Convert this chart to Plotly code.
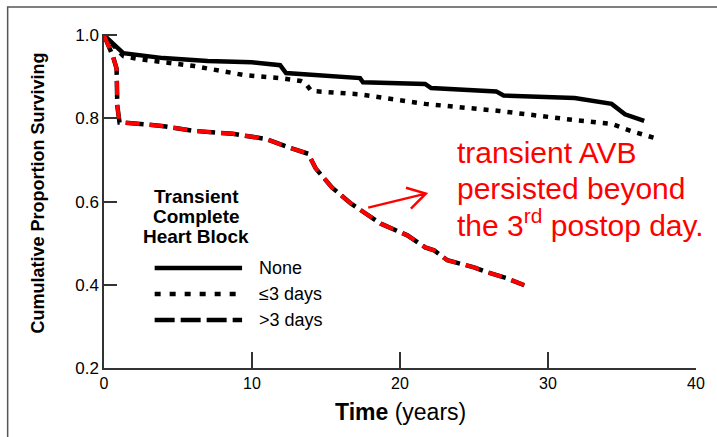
import plotly.graph_objects as go

# ---------------- data ----------------
none_t = [0, 1.3, 4, 7, 10, 11.9, 12.3, 17.3, 17.5, 21.7, 22.1, 26.5, 27.0, 31.8, 34.3, 35.2, 36.5]
none_s = [1.0, 0.957, 0.945, 0.938, 0.935, 0.928, 0.909, 0.897, 0.887, 0.883, 0.873, 0.865, 0.855, 0.849, 0.835, 0.81, 0.794]

le3_t = [0, 1.3, 2.3, 6.1, 9.5, 11.9, 13.3, 13.6, 14.0, 17.3, 21.7, 26.7, 31.8, 34.3, 35.6, 37.2]
le3_s = [1.0, 0.95, 0.943, 0.926, 0.904, 0.897, 0.89, 0.885, 0.866, 0.858, 0.835, 0.818, 0.796, 0.787, 0.77, 0.753]

gt3_t = [0, 0.6, 0.85, 0.9, 1.05, 1.4, 3.9, 6.1, 8.7, 10.9, 12.5, 13.8, 14.3, 15.4, 16.7, 17.4,
         18.7, 20.5, 21.7, 22.3, 23.2, 25.0, 25.9, 27.2, 28.4]
gt3_s = [1.0, 0.95, 0.92, 0.83, 0.79, 0.79, 0.782, 0.77, 0.763, 0.751, 0.73, 0.715, 0.68, 0.634, 0.595, 0.578,
         0.547, 0.519, 0.49, 0.483, 0.459, 0.442, 0.43, 0.416, 0.399]

x_ticks = [0, 10, 20, 30, 40]
y_ticks = [0.2, 0.4, 0.6, 0.8, 1.0]
legend_title = ["Transient", "Complete", "Heart Block"]
legend_labels = ["None", "≤3 days", ">3 days"]
note_lines = ["transient AVB", "persisted beyond", "the 3<sup>rd</sup> postop day."]

# ---------------- layout geometry (pixels) ----------------
WID, HEI = 717, 437
L, R, T, B = 104, 700, 34, 368
PW, PH = R - L, B - T
FONT = "Liberation Sans, Arial"

def pxp(px):
    return (px - L) / PW

def pyp(py):
    return (B - py) / PH

def px2x(px):
    return (px - L) / PW * 40

def py2y(py):
    return 0.2 + (B - py) / PH * 0.8

fig = go.Figure()

fig.add_trace(go.Scatter(x=none_t, y=none_s, mode="lines",
                         line=dict(color="black", width=4.5), hoverinfo="skip"))
fig.add_trace(go.Scatter(x=le3_t, y=le3_s, mode="lines",
                         line=dict(color="black", width=4.5, dash="5px,7px"), hoverinfo="skip"))
fig.add_trace(go.Scatter(x=gt3_t, y=gt3_s, mode="lines",
                         line=dict(color="black", width=4.5, dash="18px,6px"), hoverinfo="skip"))
fig.add_trace(go.Scatter(x=gt3_t, y=gt3_s, mode="lines",
                         line=dict(color="#ff0000", width=4, dash="14px,10px"), hoverinfo="skip"))

shapes = []
annotations = []

# outer frame
shapes.append(dict(type="rect", xref="paper", yref="paper",
                   x0=pxp(7), y0=pyp(7), x1=pxp(760), y1=pyp(480),
                   line=dict(color="#555555", width=1.5), layer="below"))

def txt(x_px, base_px, text, size, anchor="left", bold=False, color="black"):
    annotations.append(dict(
        xref="paper", yref="paper", x=pxp(x_px), y=pyp(base_px - 0.33 * size),
        xanchor=anchor, yanchor="middle", showarrow=False,
        text=("<b>%s</b>" % text) if bold else text,
        font=dict(family=FONT, size=size, color=color)))

# legend (manual)
for i, line in enumerate(legend_title):
    txt(197, 203 + 20 * i, line, 19, anchor="center", bold=True)

leg_y = [268, 294, 320]
leg_dash = ["solid", "6px,9px", "20px,6px"]
for i, lab in enumerate(legend_labels):
    shapes.append(dict(type="line", xref="paper", yref="paper",
                       x0=pxp(155), x1=pxp(243), y0=pyp(leg_y[i]), y1=pyp(leg_y[i]),
                       line=dict(color="black", width=4.5, dash=leg_dash[i])))
    txt(258, leg_y[i] + 6, lab, 18)

# axis titles
annotations.append(dict(xref="paper", yref="paper", x=pxp(38), y=pyp(193),
                        xanchor="center", yanchor="middle", textangle=-90, showarrow=False,
                        text="<b>Cumulative Proportion Surviving</b>",
                        font=dict(family=FONT, size=18, color="black")))
annotations.append(dict(xref="paper", yref="paper", x=pxp(402), y=pyp(412),
                        xanchor="center", yanchor="middle", showarrow=False,
                        text="<b>Time</b> (years)",
                        font=dict(family=FONT, size=23, color="black")))

# red note
note_base = [162, 198, 233]
for i, line in enumerate(note_lines):
    txt(457, note_base[i], line, 30, color="#ff0000")

# red arrow (open chevron head)
shapes.append(dict(type="path", xref="x", yref="y",
                   path="M %f,%f L %f,%f M %f,%f L %f,%f L %f,%f" % (
                       px2x(370), py2y(207), px2x(428), py2y(193),
                       px2x(408), py2y(187), px2x(428), py2y(193), px2x(413), py2y(208)),
                   line=dict(color="#ff0000", width=2.5)))

fig.update_layout(
    width=WID, height=HEI,
    margin=dict(l=L, r=WID - R, t=T, b=HEI - B),
    paper_bgcolor="white", plot_bgcolor="white",
    showlegend=False,
    shapes=shapes, annotations=annotations,
    font=dict(family=FONT, color="black"),
)
fig.update_xaxes(range=[0, 40], tickvals=x_ticks, ticktext=[str(v) for v in x_ticks],
                 ticks="inside", ticklen=16, tickwidth=1.5, tickcolor="#333",
                 showline=True, linecolor="#333", linewidth=1.5,
                 showgrid=False, zeroline=False,
                 tickfont=dict(size=16, color="black"))
fig.update_yaxes(range=[0.2, 1.003], tickvals=y_ticks, ticktext=["%.1f" % v for v in y_ticks],
                 ticks="inside", ticklen=13, tickwidth=1.5, tickcolor="#333",
                 showline=True, linecolor="#333", linewidth=1.5,
                 showgrid=False, zeroline=False,
                 tickfont=dict(size=17, color="black"))

fig.write_html("out.html")
